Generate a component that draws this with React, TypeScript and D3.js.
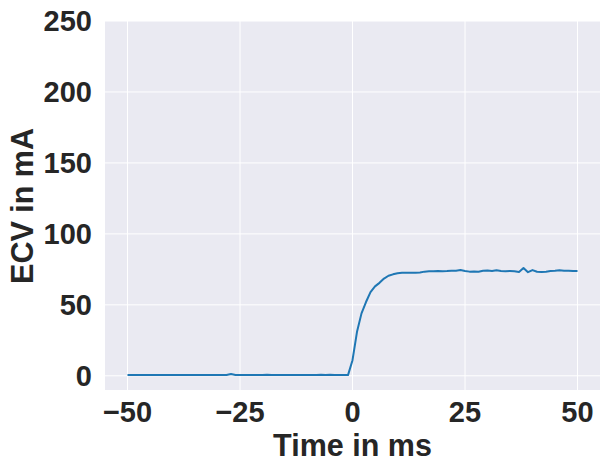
import React from "react";
import * as d3 from "d3";

const timeMs: number[] = d3.range(-50, 51, 1);
const ecv: number[] = [
  // -50 .. -33
  0.5, 0.5, 0.5, 0.5, 0.5, 0.5, 0.5, 0.5, 0.5, 0.5, 0.5, 0.5, 0.5, 0.5, 0.5, 0.5, 0.5, 0.5,
  // -32 .. -21
  0.6, 0.5, 0.6, 0.5, 0.6, 1.3, 0.6, 0.5, 0.5, 0.5, 0.5, 0.5,
  // -20 .. -1
  0.6, 0.8, 0.5, 0.5, 0.5, 0.5, 0.5, 0.5, 0.5, 0.5, 0.5, 0.5, 0.5, 0.8, 0.6, 0.7, 0.5, 0.5, 0.5, 0.5,
  // 0 .. 10
  11, 31, 44, 52, 59, 63, 65.5, 68.5, 70.5, 71.5, 72.3,
  // 11 .. 30
  72.6, 72.6, 72.6, 72.6, 72.8, 73.4, 73.6, 73.6, 73.8, 73.7, 73.8, 74.0, 74.1, 74.5, 73.9, 73.4, 73.5, 73.3, 74.0, 74.2,
  // 31 .. 50
  73.9, 74.3, 73.8, 73.6, 73.9, 73.7, 73.2, 76.0, 73.0, 74.5, 73.3, 73.2, 73.4, 73.8, 74.0, 74.3, 74.0, 74.1, 73.8, 73.8,
];
const xTicks: number[] = [-50, -25, 0, 25, 50];
const yTicks: number[] = [0, 50, 100, 150, 200, 250];
const xLabel = "Time in ms";
const yLabel = "ECV in mA";

const W = 610;
const H = 471;
const left = 105;
const right = 600;
const top = 21;
const bottom = 390;
const textColor = "#262626";
const font = "'Liberation Sans', Arial, sans-serif";

export default function App() {
  const x = d3.scaleLinear().domain([-55, 55]).range([left, right]);
  const y = d3.scaleLinear().domain([-10, 250]).range([bottom, top]);
  const line = d3
    .line<number>()
    .x((_, i) => x(timeMs[i]))
    .y((d) => y(d));
  const fmt = (v: number) => (v < 0 ? "\u2212" + Math.abs(v) : String(v));
  return (
    <svg
      width={W}
      height={H}
      style={{ position: "absolute", left: 0, top: 0, background: "#fff" }}
      fontFamily={font}
    >
      <rect x={left} y={top} width={right - left} height={bottom - top} fill="#EAEAF2" />
      {yTicks.map((t) => (
        <line key={"gy" + t} x1={left} x2={right} y1={y(t)} y2={y(t)} stroke="#fff" strokeWidth={1} />
      ))}
      {xTicks.map((t) => (
        <line key={"gx" + t} x1={x(t)} x2={x(t)} y1={top} y2={bottom} stroke="#fff" strokeWidth={1} />
      ))}
      <path d={line(ecv) || ""} fill="none" stroke="#1f77b4" strokeWidth={2} strokeLinejoin="round" />
      {xTicks.map((t) => (
        <text
          key={"tx" + t}
          x={x(t)}
          y={421.5}
          textAnchor="middle"
          fontSize={29}
          fontWeight="bold"
          fill={textColor}
        >
          {fmt(t)}
        </text>
      ))}
      {yTicks.map((t) => (
        <text
          key={"ty" + t}
          x={92}
          y={y(t) + 10.3}
          textAnchor="end"
          fontSize={29}
          fontWeight="bold"
          fill={textColor}
        >
          {fmt(t)}
        </text>
      ))}
      <text
        x={(left + right) / 2}
        y={456}
        textAnchor="middle"
        fontSize={30.5}
        fontWeight="bold"
        fill={textColor}
      >
        {xLabel}
      </text>
      <text
        transform={`translate(32.5, ${206}) rotate(-90)`}
        textAnchor="middle"
        fontSize={30.5}
        fontWeight="bold"
        fill={textColor}
      >
        {yLabel}
      </text>
    </svg>
  );
}
